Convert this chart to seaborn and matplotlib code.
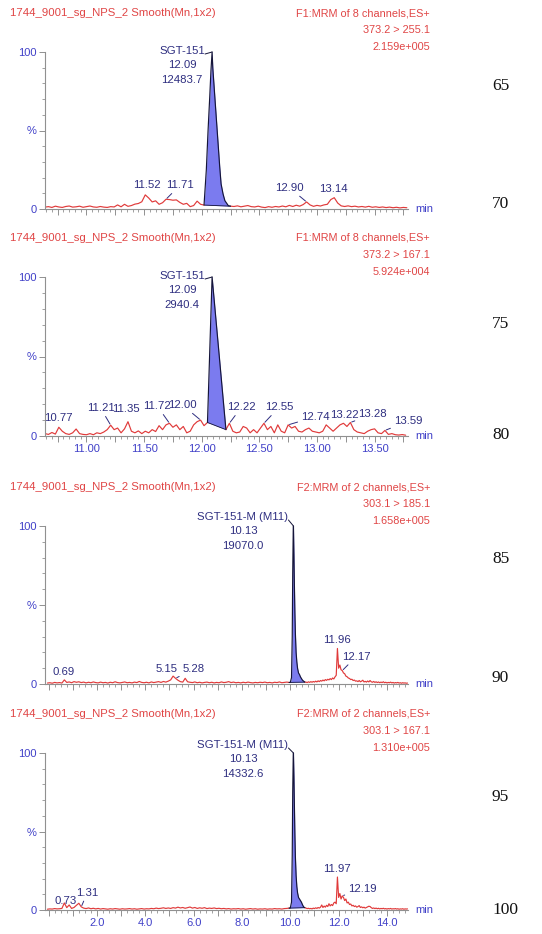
import numpy as np
import matplotlib
matplotlib.use("Agg")
import matplotlib.pyplot as plt
from matplotlib.ticker import MultipleLocator, FuncFormatter
import seaborn as sns

# ---------------- data ----------------
sample_title = "1744_9001_sg_NPS_2 Smooth(Mn,1x2)"
functions = ["F1:MRM of 8 channels,ES+", "F1:MRM of 8 channels,ES+",
             "F2:MRM of 2 channels,ES+", "F2:MRM of 2 channels,ES+"]
transitions = ["373.2 > 255.1", "373.2 > 167.1", "303.1 > 185.1", "303.1 > 167.1"]
max_counts = ["2.159e+005", "5.924e+004", "1.658e+005", "1.310e+005"]
compounds = ["SGT-151", "SGT-151", "SGT-151-M (M11)", "SGT-151-M (M11)"]
main_rt = ["12.09", "12.09", "10.13", "10.13"]
main_area = ["12483.7", "2940.4", "19070.0", "14332.6"]

# panel 1 : 373.2 > 255.1
p1_pre_start, p1_pre_step = 10.64, 0.03
p1_pre = [1.2, 1.5, 1.0, 1.8, 1.3, 1.0, 1.6, 1.9, 1.2, 1.4,
          1.8, 1.1, 1.5, 1.9, 1.3, 1.1, 1.6, 1.2, 1.0, 1.5,
          1.3, 2.6, 1.4, 3.0, 1.7, 2.2, 3.1, 3.5, 4.6, 9.0,
          7.0, 4.5, 5.2, 3.0, 4.0, 6.2, 6.0, 5.6, 5.8, 4.2,
          3.0, 3.6, 1.5, 2.2, 5.0, 3.0, 2.5]
p1_peak_t = [12.04, 12.055, 12.07, 12.08, 12.09, 12.096, 12.116, 12.136,
             12.156, 12.168, 12.185, 12.201, 12.231, 12.25]
p1_peak = [25, 50, 72, 88, 100, 90, 69, 48, 27, 16, 9.6, 5.3, 2.1, 1.8]
p1_post_start, p1_post_step = 12.28, 0.03
p1_post = [1.6, 2.0, 1.4, 1.8, 2.2, 1.5, 1.3, 1.8, 1.2, 0.9,
           1.5, 1.1, 1.6, 1.3, 1.9, 1.4, 2.3, 1.6, 2.4, 1.8,
           2.8, 4.5, 2.6, 1.7, 2.3, 1.9, 2.6, 3.0, 6.0, 7.2,
           3.8, 2.0, 1.6, 2.0, 1.5, 1.8, 1.3, 1.6, 1.2, 1.7,
           1.1, 1.4, 1.0, 1.3, 0.9, 1.2, 0.8, 1.1, 0.7, 1.0, 0.8]
p1_labels = [11.52, 11.71, 12.90, 13.14]

# panel 2 : 373.2 > 167.1
p2_pre_start, p2_pre_step = 10.64, 0.03
p2_pre = [1.5, 1.0, 2.2, 1.2, 5.5, 3.0, 1.5, 1.0, 2.0, 4.4,
          1.5, 1.0, 0.8, 1.5, 0.8, 2.0, 1.5, 2.5, 4.0, 6.8,
          4.0, 5.0, 2.0, 4.5, 9.0, 3.0, 2.0, 3.2, 1.5, 3.0,
          2.0, 4.0, 2.8, 6.5, 4.0, 7.0, 8.0, 5.5, 7.0, 4.0,
          6.0, 2.0, 3.0, 7.0, 9.0, 10.0, 6.5, 8.5]
p2_peak_t = [12.09, 12.21]
p2_peak = [100, 4.0]
p2_post_start, p2_post_step = 12.24, 0.03
p2_post = [8.0, 3.0, 2.0, 2.5, 6.0, 5.0, 2.0, 4.0, 2.0, 5.0,
           8.0, 4.0, 6.0, 2.0, 7.0, 3.0, 2.0, 7.0, 5.0, 6.0,
           3.0, 2.5, 4.0, 5.0, 3.0, 2.5, 2.0, 3.0, 7.0, 5.0,
           3.0, 5.0, 7.0, 8.0, 6.0, 8.5, 4.0, 2.5, 2.0, 1.5,
           3.0, 4.0, 4.5, 2.0, 1.5, 3.5, 1.0, 1.5, 0.8, 0.6,
           0.9, 0.5]
p2_labels = [10.77, 11.21, 11.35, 11.72, 12.00, 12.22, 12.55, 12.74, 13.22, 13.28, 13.59]

# panel 3 : 303.1 > 185.1
p3_pre_start, p3_pre_step = -0.05, 0.1
p3_pre = [0.6, 0.8, 0.5, 1.0, 0.7, 0.9, 0.6, 2.6, 1.0, 1.3,
          0.8, 1.5, 1.1, 1.4, 0.9, 1.2, 0.7, 1.1, 0.8, 1.3,
          0.9, 0.7, 1.2, 0.8, 1.0, 0.6, 1.1, 0.8, 1.4, 0.9,
          0.7, 1.0, 1.3, 0.8, 1.0, 0.7, 1.2, 0.9, 1.6, 1.0,
          0.8, 1.1, 0.7, 1.3, 0.9, 1.2, 1.5, 1.0, 1.6, 1.2,
          1.8, 2.6, 5.0, 3.6, 2.4, 1.5, 1.2, 3.6, 1.4, 1.1,
          0.9, 1.3, 0.8, 1.1, 0.7, 1.0, 1.2, 0.8, 1.1, 0.7,
          1.0, 0.8, 1.3, 0.9, 1.1, 1.5, 0.9, 1.2, 0.8, 1.0,
          0.7, 1.1, 0.8, 1.2, 0.9, 0.7, 1.0, 0.8, 1.1, 0.9,
          1.2, 0.8, 1.0, 0.7, 1.1, 0.9, 1.3, 0.8, 1.0, 1.2, 1.0]
p3_peak_t = [10.00, 10.05, 10.08, 10.10, 10.12, 10.13, 10.15, 10.17, 10.19, 10.21,
             10.24, 10.27, 10.30, 10.34, 10.38, 10.42, 10.46, 10.50, 10.55, 10.60]
p3_peak = [1.0, 4, 30, 70, 95, 100, 82, 62, 45, 32, 20, 14, 10, 7, 6, 4.5, 3.5, 2.5, 1.8, 1.2]
p3_post_start, p3_post_step = 10.65, 0.05
p3_post = [1.2, 0.9, 1.4, 1.0, 1.5, 1.1, 1.6, 1.2, 1.8, 1.3,
           2.0, 1.5, 2.2, 1.8, 2.5, 2.0, 2.8, 2.3, 3.0, 2.6,
           3.4, 2.8, 3.8, 3.2, 4.5, 5.5, 22.5, 10.0, 12.0, 9.0,
           8.5, 7.0, 6.5, 5.0, 4.6, 3.8, 3.5, 2.8, 3.0, 2.2,
           2.5, 1.8, 2.0, 1.5, 2.2, 1.4, 1.8, 2.4, 1.3, 1.7,
           1.2, 1.9, 1.3, 2.2, 1.4, 1.1, 1.6, 1.0, 1.4, 0.9,
           1.3, 0.8, 1.2, 0.9, 1.4, 0.8, 1.1, 0.7, 1.0, 0.8,
           1.2, 0.7, 1.0, 0.6, 0.9, 0.7, 1.0, 0.6, 0.8, 0.5,
           0.8, 0.6, 0.7, 0.5, 0.6]
p3_labels = [0.69, 5.15, 5.28, 11.96, 12.17]

# panel 4 : 303.1 > 167.1
p4_pre_start, p4_pre_step = -0.05, 0.1
p4_pre = [0.5, 0.7, 0.6, 0.9, 0.7, 0.8, 1.0, 4.5, 1.5, 3.2,
          1.0, 1.6, 3.0, 4.3, 2.0, 1.2, 0.9, 1.3, 0.8, 1.1,
          0.7, 1.0, 0.6, 0.9, 0.7, 0.5, 0.8, 0.6, 0.9, 0.7,
          0.5, 0.8, 0.6, 0.7, 0.9, 0.6, 0.8, 0.5, 0.7, 0.9,
          0.6, 0.8, 0.7, 1.0, 0.8, 1.2, 0.9, 1.1, 1.4, 1.0,
          1.3, 1.0, 1.5, 1.2, 1.8, 1.3, 1.6, 1.1, 1.5, 1.9,
          1.2, 1.6, 1.0, 1.4, 1.1, 1.5, 0.9, 1.2, 1.0, 1.3,
          0.9, 1.1, 0.8, 1.0, 0.7, 0.9, 0.6, 0.8, 0.7, 0.9,
          0.6, 0.8, 0.5, 0.7, 0.9, 0.6, 0.8, 0.5, 0.7, 0.6,
          0.8, 0.5, 0.7, 0.6, 0.9, 0.7, 0.8, 0.6, 0.9, 1.0, 1.2]
p4_peak_t = [10.00, 10.05, 10.08, 10.10, 10.12, 10.13, 10.15, 10.17, 10.19, 10.21,
             10.24, 10.27, 10.30, 10.34, 10.38, 10.42, 10.46, 10.50, 10.55, 10.60]
p4_peak = [1.2, 5, 35, 75, 96, 100, 85, 66, 48, 34, 22, 15, 11, 8, 7, 6, 5, 3.5, 2.0, 1.5]
p4_post_start, p4_post_step = 10.65, 0.05
p4_post = [1.2, 0.9, 1.1, 0.8, 1.0, 0.7, 1.2, 0.9, 1.4, 1.0,
           1.6, 1.2, 1.8, 3.2, 1.6, 2.5, 1.8, 3.0, 2.2, 4.0,
           2.6, 3.5, 2.8, 4.5, 5.0, 4.0, 21.0, 8.0, 10.5, 7.0,
           9.0, 8.0, 6.0, 7.0, 4.5, 5.0, 3.5, 3.8, 2.6, 3.0,
           2.2, 2.6, 1.8, 2.2, 2.8, 1.6, 2.0, 1.4, 1.8, 1.2,
           1.6, 2.0, 2.4, 2.2, 1.5, 1.0, 1.3, 0.9, 1.2, 0.8,
           1.1, 0.7, 1.0, 0.8, 1.1, 0.7, 0.9, 0.6, 0.9, 0.7,
           1.0, 0.6, 0.8, 0.7, 0.9, 0.6, 0.8, 0.5, 0.7, 0.6,
           0.8, 0.5, 0.7, 0.6, 0.7]
p4_labels = [0.73, 1.31, 11.97, 12.19]

line_numbers = [65, 70, 75, 80, 85, 90, 95, 100]

# ---------------- layout / style ----------------
W, H = 542, 934
ax_left, ax_right = 45, 408
ax_top = [52, 277, 526, 753]
ax_bottom = [209, 436, 684, 910]
xlims = [(10.64, 13.79), (10.64, 13.79), (-0.15, 14.87), (-0.15, 14.87)]
show_xlabels = [False, True, False, True]
# label offsets (dx, up) in pixels from the apex, and whether a leader is drawn
label_style = [
    [(2, 10, False), (14, 14, True), (-17, 14, True), (-1, 9, False)],
    [(0, 9, False), (-10, 17, True), (-2, 13, False), (-12, 17, True), (-18, 15, True),
     (12, 16, True), (15, 16, True), (27, 8, True), (1, 8, False), (22, 8, True), (23, 9, True)],
    [(-1, 8, False), (-6, 7, False), (18, 9, True), (0, 8, False), (14, 14, True)],
    [(-1, 7, False), (6, 14, True), (0, 8, False), (20, 7, True)],
]
main_up = [-2, -2, 6, 5]
main_gap = [7, 7, 5, 5]
line_number_y = [86, 204, 324, 435, 559, 678, 797, 910]

RED = "#e03a3a"
TITLE_RED = "#e04545"
AX_BLUE = "#4040c8"
LABEL_BLUE = "#2e2e80"
FILL = "#7b7bef"
DARK = "#15153a"
GRID_GREY = "#909090"
FS = 8.2

sns.set_theme(style="ticks")
plt.rcParams["font.family"] = ["Liberation Sans", "DejaVu Sans"]


def build_trace(pre_start, pre_step, pre, peak_t, peak, post_start, post_step, post):
    t_pre = pre_start + pre_step * np.arange(len(pre))
    t_post = post_start + post_step * np.arange(len(post))
    t = np.concatenate([t_pre, np.array(peak_t), t_post])
    y = np.concatenate([np.array(pre), np.array(peak), np.array(post)])
    i0 = len(pre) - 1
    i1 = len(pre) + len(peak) - 1
    return t, y, i0, i1


traces = [
    build_trace(p1_pre_start, p1_pre_step, p1_pre, p1_peak_t, p1_peak, p1_post_start, p1_post_step, p1_post),
    build_trace(p2_pre_start, p2_pre_step, p2_pre, p2_peak_t, p2_peak, p2_post_start, p2_post_step, p2_post),
    build_trace(p3_pre_start, p3_pre_step, p3_pre, p3_peak_t, p3_peak, p3_post_start, p3_post_step, p3_post),
    build_trace(p4_pre_start, p4_pre_step, p4_pre, p4_peak_t, p4_peak, p4_post_start, p4_post_step, p4_post),
]
peak_labels = [p1_labels, p2_labels, p3_labels, p4_labels]
windows = [0.035, 0.035, 0.06, 0.06]

fig = plt.figure(figsize=(W / 100, H / 100), dpi=100)

for k in range(4):
    t, y, i0, i1 = traces[k]
    ax = fig.add_axes([ax_left / W, 1 - ax_bottom[k] / H,
                       (ax_right - ax_left) / W, (ax_bottom[k] - ax_top[k]) / H])

    # filled main peak
    ts = t[i0:i1 + 1]
    ys = y[i0:i1 + 1]
    base = np.interp(ts, [ts[0], ts[-1]], [ys[0], ys[-1]])
    ax.fill_between(ts, base, ys, color=FILL, linewidth=0)
    ax.plot([ts[0], ts[-1]], [ys[0], ys[-1]], color=DARK, lw=0.6)

    # trace
    sns.lineplot(x=t[:i0 + 1], y=y[:i0 + 1], ax=ax, color=RED, lw=0.85, estimator=None, sort=False)
    sns.lineplot(x=t[i1:], y=y[i1:], ax=ax, color=RED, lw=0.85, estimator=None, sort=False)
    sns.lineplot(x=ts, y=ys, ax=ax, color=DARK, lw=0.85, estimator=None, sort=False, clip_on=False)

    ax.set_xlim(*xlims[k])
    ax.set_ylim(0, 100)
    ax.set_xlabel("")
    ax.set_ylabel("")
    sns.despine(ax=ax)
    for s in ["left", "bottom"]:
        ax.spines[s].set_color(GRID_GREY)
        ax.spines[s].set_linewidth(0.8)

    # axis ticks
    ax.set_yticks([0, 50, 100])
    ax.set_yticklabels(["0", "%", "100"])
    ax.yaxis.set_minor_locator(MultipleLocator(10))
    if k < 2:
        ax.xaxis.set_major_locator(MultipleLocator(0.25))
        ax.xaxis.set_minor_locator(MultipleLocator(0.05))
        fmt = FuncFormatter(lambda v, p: f"{v:.2f}" if abs(v * 2 - round(v * 2)) < 1e-6 else "")
    else:
        ax.xaxis.set_major_locator(MultipleLocator(1.0))
        ax.xaxis.set_minor_locator(MultipleLocator(0.25))
        fmt = FuncFormatter(lambda v, p: f"{v:.1f}" if (v > 0.5 and abs(v / 2 - round(v / 2)) < 1e-6) else "")
    ax.xaxis.set_major_formatter(fmt)
    if not show_xlabels[k]:
        ax.tick_params(axis="x", labelbottom=False)
    ax.tick_params(which="major", length=4, width=0.7, color=GRID_GREY, labelsize=8,
                   labelcolor=AX_BLUE, pad=2)
    ax.tick_params(which="minor", length=2.2, width=0.6, color=GRID_GREY)
    ax.patch.set_alpha(0)

    ax.text(1.02, 0, "min", transform=ax.transAxes, ha="left", va="center",
            fontsize=8, color=AX_BLUE)

    # header texts
    ax.annotate(sample_title, xy=(0, 1), xycoords="axes fraction", xytext=(10 - ax_left, 39),
                textcoords="offset pixels", ha="left", va="center", fontsize=FS, color=TITLE_RED)
    for line, up in zip([functions[k], transitions[k], max_counts[k]], [39, 22, 5]):
        ax.annotate(line, xy=(1, 1), xycoords="axes fraction", xytext=(22, up),
                    textcoords="offset pixels", ha="right", va="center", fontsize=7.8, color=TITLE_RED)

    # main peak label
    imax = int(np.argmax(y))
    apex = (t[imax], y[imax])
    name = ax.annotate(compounds[k], xy=apex, xytext=(-main_gap[k], main_up[k]),
                       textcoords="offset pixels", ha="right", va="baseline",
                       fontsize=FS, color=LABEL_BLUE)
    ax.annotate("", xy=apex, xytext=(-main_gap[k], main_up[k]), textcoords="offset pixels",
                arrowprops=dict(arrowstyle="-", color=DARK, lw=0.7, shrinkA=0, shrinkB=0))
    ax.annotate(main_rt[k] + "\n" + main_area[k], xy=(0.5, 0), xycoords=name,
                xytext=(0, -4), textcoords="offset pixels", ha="center", va="top",
                fontsize=FS, color=LABEL_BLUE, linespacing=1.6)

    # small peak labels
    for lab, (dx, up, leader) in zip(peak_labels[k], label_style[k]):
        m = np.abs(t - lab) <= windows[k]
        j = np.where(m)[0][np.argmax(y[m])]
        kw = {}
        if leader:
            kw["arrowprops"] = dict(arrowstyle="-", color=LABEL_BLUE, lw=0.7, shrinkA=0, shrinkB=1)
        ax.annotate(f"{lab:.2f}", xy=(t[j], y[j]), xytext=(dx, up), textcoords="offset pixels",
                    ha="center", va="center", fontsize=FS, color=LABEL_BLUE, **kw)

# document line numbers on the right
for n, yp in zip(line_numbers, line_number_y):
    fig.text(492 / W, 1 - yp / H, str(n), ha="left", va="center", fontsize=12.5,
             family=["Liberation Serif", "DejaVu Serif"], color="#111111")

fig.savefig("out.png", dpi=100)
